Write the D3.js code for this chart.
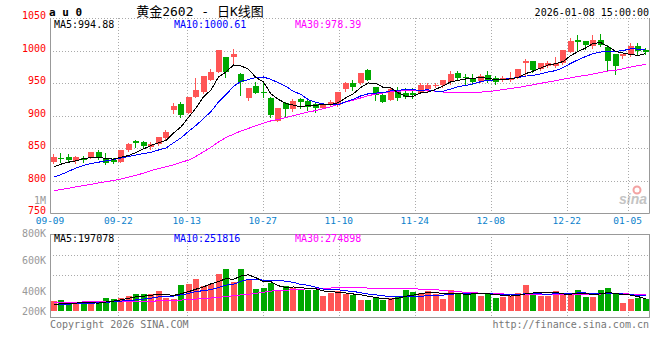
<!DOCTYPE html>
<html>
<head>
<meta charset="utf-8">
<script src="https://cdn.jsdelivr.net/npm/d3@7"></script>
<style>
  body { margin: 0; background: #fff; }
  svg text { font-family: 'DejaVu Sans Mono', monospace; font-size: 10px; }
</style>
</head>
<body>
<div class="main"></div>
<script>
let dates = ['09-09','09-10','09-11','09-12','09-15','09-16','09-17','09-18','09-19','09-22',
  '09-23','09-24','09-25','09-26','09-29','09-30','10-09','10-10','10-13','10-14',
  '10-15','10-16','10-17','10-20','10-21','10-22','10-23','10-24','10-27','10-28',
  '10-29','10-30','10-31','11-03','11-04','11-05','11-06','11-07','11-10','11-11',
  '11-12','11-13','11-14','11-17','11-18','11-19','11-20','11-21','11-24','11-25',
  '11-26','11-27','11-28','12-01','12-02','12-03','12-04','12-05','12-08','12-09',
  '12-10','12-11','12-12','12-15','12-16','12-17','12-18','12-19','12-22','12-23',
  '12-24','12-25','12-26','12-29','12-30','12-31','01-05','01-06','01-07','01-08'];

let opens = [830,836,837,831,835,835,845,834,833,830, 847,861,860,853,857,866,909,918,905,930,
  937,956,968,990,990,965,928,946,937,928, 893,920,911,926,923,918,913,919,917,941,
  951,951,971,944,932,925,937,936,936,936, 941,946,947,952,966,960,959,954,963,959,
  957,955,958,981,985,972,977,977,981,999, 1017,1015,1007,1017,1006,995,993,994,1008,1001];
let closes = [837,835,832,837,832,844,835,827,830,847, 857,859,854,857,867,876,915,902,930,940,
  961,968,1001,968,995,953,943,936,935,902, 912,911,923,922,914,913,918,921,937,951,
  945,966,955,933,921,941,927,930,932,948, 948,948,955,964,959,959,953,962,955,952,
  958,959,972,985,971,982,982,982,1002,1016, 1014,1009,1017,1009,985,977,996,1007,1000,999];
let highs = [841,843,841,839,839,844,847,843,835,847, 858,863,861,860,868,879,920,922,930,958,
  961,972,1001,990,1003,966,943,952,952,929, 913,922,926,927,926,920,919,924,937,953,
  955,966,973,944,935,943,945,943,943,951, 951,951,956,969,969,964,964,964,969,961,
  961,967,972,988,985,982,985,991,1002,1020, 1025,1015,1025,1026,1009,995,996,1012,1012,1005];
let lows = [828,830,830,828,830,835,834,826,828,830, 846,853,851,850,856,865,904,898,904,930,
  935,955,968,960,982,932,924,935,930,898, 893,898,908,913,910,906,912,917,915,939,
  940,950,955,924,921,925,925,927,927,935, 937,944,945,950,955,949,950,953,953,950,
  954,954,958,961,968,971,976,976,980,999, 1000,1003,1005,1007,969,964,989,993,995,995];

// volume in thousands of lots
let volumes = [156.6,172.8,129.6,118.8,118.8,118.8,156.6,216,199.8,216,
  248.4,270,270,270,318.6,210.6,189,415.8,432,523.8,
  399.6,432,594,675,464.4,675,523.8,351,367.2,453.6,
  345.6,399.6,378,334.8,345.6,334.8,237.6,291.6,324,270,
  253.8,172.8,172.8,216,183.6,216,248.4,334.8,307.8,291.6,
  324,270,189,334.8,291.6,270,302.4,237.6,291.6,216,
  226.8,237.6,291.6,415.8,291.6,248.4,248.4,318.6,270,270,
  334.8,226.8,226.8,334.8,367.2,270,129.6,189,210.6,189];

// MA values before enough history is on screen
let ma5Head = [822,826,829,831];
let ma10Head = [806,810,815,820,824,827,829,831,833];
let ma30Head = [785,787,789,791,793,795,797,799,801,803,806,809,812,816,819,822,825,829,832,838,
  845,852,860,867,872,877,881,885,889];
let vma5Head = [110,115,120,128];
let vma10Head = [105,108,112,116,120,126,134,142,150];
let vma30Head = [145,145,145,145,146,146,147,147,148,149,151,154,157,160,163,167,171,177,184,193,
  200,210,220,235,248,260,270,285,305];

let tickDates = ['09-09','09-22','10-13','10-27','11-10','11-24','12-08','12-22','01-05'];
let priceTicks = [750,800,850,900,950,1000,1050];
let volTicks = [1000000,800000,600000,400000,200000];
let volTickLabels = ['1M','800K','600K','400K','200K'];
let maNames = ['MA5','MA10','MA30'];
let maColors = ['#000','#0000ff','#ff00ff'];
let priceMaLast = ['994.88','1000.61','978.39'];
let volMaLast = ['197078','251816','274898'];

const red = '#ff5656', green = '#00a800', gridColor = '#aaa', frameColor = '#999';
const W = 660, H = 360;
const left = 50, right = 649;
const pTop = 18, pBottom = 213;
const vTop = 234, vBottom = 317, vBase = 311;

function movingAvg(values, n, head) {
  return values.map((v, i) => i < n - 1 ? head[i] : d3.mean(values.slice(i - n + 1, i + 1)));
}

let svg = d3.select('.main').append('svg')
  .attr('width', W)
  .attr('height', H);

let x = d3.scaleBand().domain(d3.range(dates.length)).range([left, right + 0.3]);
let cx = i => Math.round(x(i) + x.bandwidth() / 2);
let xGrid = d3.scaleLinear().domain([0, 80]).range([left, left + 608]);
let yP = d3.scaleLinear().domain([750, 1050]).range([pBottom + 0.5, pTop + 0.5]);
let yV = d3.scaleLinear().domain([0, 1231]).range([vBase, vBase - 76]);
let yVLabel = d3.scaleLinear().domain([400000, 1000000]).range([291, 200]);

// header
svg.append('text').attr('x', 49).attr('y', 12).attr('dy', '0.35em')
  .style('font-size', '11px').style('font-weight', 'bold').text('a u 0');
svg.append('text').attr('x', 200).attr('y', 11).attr('dy', '0.35em')
  .attr('text-anchor', 'middle')
  .style('font-family', "'DejaVu Sans Mono', 'Noto Sans CJK SC'").style('font-size', '13px')
  .text('黄金2602 - 日K线图');
svg.append('text').attr('x', 649).attr('y', 12).attr('dy', '0.35em')
  .attr('text-anchor', 'end').text('2026-01-08 15:00:00');

// sina watermark
svg.append('circle').attr('cx', 637).attr('cy', 190).attr('r', 3.5)
  .attr('fill', 'none').attr('stroke', '#f3a3a3').attr('stroke-width', 2);
svg.append('text').attr('x', 619).attr('y', 204)
  .style('font-family', 'Liberation Sans').style('font-size', '14px')
  .style('font-style', 'italic').style('font-weight', 'bold')
  .attr('fill', '#c4c4c4').text('sina');

// grid lines
let hLines = priceTicks.filter(v => v > 750);
svg.selectAll('.pgrid').data(hLines).enter().append('line')
  .attr('class', 'pgrid')
  .attr('x1', left).attr('x2', right)
  .attr('y1', d => Math.floor(yP(d)) + 0.5).attr('y2', d => Math.floor(yP(d)) + 0.5)
  .attr('stroke', gridColor).attr('stroke-dasharray', '1,2');

let tickIdx = tickDates.map(d => dates.indexOf(d)).filter(i => i > 0);
svg.selectAll('.vgrid').data(tickIdx).enter().append('line')
  .attr('class', 'vgrid')
  .attr('x1', i => Math.round(xGrid(i)) + 0.5).attr('x2', i => Math.round(xGrid(i)) + 0.5)
  .attr('y1', pTop).attr('y2', pBottom)
  .attr('stroke', gridColor).attr('stroke-dasharray', '1,2');
svg.selectAll('.vgrid2').data(tickIdx).enter().append('line')
  .attr('class', 'vgrid2')
  .attr('x1', i => Math.round(xGrid(i)) + 0.5).attr('x2', i => Math.round(xGrid(i)) + 0.5)
  .attr('y1', vTop).attr('y2', vBottom)
  .attr('stroke', gridColor).attr('stroke-dasharray', '1,2');
svg.selectAll('.volgrid').data([21, 41]).enter().append('line')
  .attr('class', 'volgrid')
  .attr('x1', left).attr('x2', right)
  .attr('y1', d => vTop + d + 0.5).attr('y2', d => vTop + d + 0.5)
  .attr('stroke', gridColor).attr('stroke-dasharray', '1,2');

// frames
svg.append('path')
  .attr('d', `M${left + 0.5},${pTop}V${pBottom + 0.5}H${right + 0.5}V${pTop}`)
  .attr('fill', 'none').attr('stroke', frameColor);
svg.append('rect')
  .attr('x', left + 0.5).attr('y', vTop + 0.5)
  .attr('width', right - left).attr('height', vBottom - vTop)
  .attr('fill', 'none').attr('stroke', frameColor);

// axis labels
svg.selectAll('.plabel').data(priceTicks).enter().append('text')
  .attr('class', 'plabel')
  .attr('x', 46).attr('y', d => yP(d) - 3).attr('dy', '0.35em')
  .attr('text-anchor', 'end').attr('fill', '#f00')
  .text(d => d);
svg.selectAll('.dlabel').data(tickDates).enter().append('text')
  .attr('class', 'dlabel')
  .attr('x', d => xGrid(dates.indexOf(d))).attr('y', 221).attr('dy', '0.35em')
  .attr('text-anchor', 'middle').attr('fill', '#0a7fcc')
  .style('font-size', '9.5px')
  .text(d => d);
svg.selectAll('.vlabel').data(volTicks).enter().append('text')
  .attr('class', 'vlabel')
  .attr('x', 46).attr('y', d => Math.min(Math.max(yVLabel(d), d === 800000 ? 233 : 0), 311)).attr('dy', '0.35em')
  .attr('text-anchor', 'end').attr('fill', '#999')
  .text((d, i) => volTickLabels[i]);

// candles
let idx = d3.range(dates.length);
let candles = svg.selectAll('.candle').data(idx).enter().append('g').attr('class', 'candle');
candles.append('line')
  .attr('x1', i => cx(i) - 0.5).attr('x2', i => cx(i) - 0.5)
  .attr('y1', i => Math.round(yP(highs[i]))).attr('y2', i => Math.round(yP(lows[i])) + 1)
  .attr('stroke', i => closes[i] >= opens[i] ? red : green);
candles.append('rect')
  .attr('x', i => cx(i) - 3).attr('width', 6)
  .attr('y', i => Math.round(yP(Math.max(opens[i], closes[i]))))
  .attr('height', i => Math.max(1, Math.round(yP(Math.min(opens[i], closes[i]))) - Math.round(yP(Math.max(opens[i], closes[i])))))
  .attr('fill', i => closes[i] >= opens[i] ? red : green);

// volume bars
svg.selectAll('.vol').data(idx).enter().append('rect')
  .attr('class', 'vol')
  .attr('x', i => cx(i) - 3).attr('width', 6)
  .attr('y', i => Math.round(yV(volumes[i])))
  .attr('height', i => vBase - Math.round(yV(volumes[i])))
  .attr('fill', i => closes[i] >= opens[i] ? red : green);

// moving averages
let priceMa = [movingAvg(closes, 5, ma5Head), movingAvg(closes, 10, ma10Head), movingAvg(closes, 30, ma30Head)];
let volMa = [movingAvg(volumes, 5, vma5Head), movingAvg(volumes, 10, vma10Head), movingAvg(volumes, 30, vma30Head)];
let linePrice = d3.line().x((d, i) => x(i) + x.bandwidth() / 2).y(d => yP(d));
let lineVol = d3.line().x((d, i) => x(i) + x.bandwidth() / 2).y(d => yV(d));
[2, 1, 0].forEach(k => {
  svg.append('path').attr('d', linePrice(priceMa[k]))
    .attr('fill', 'none').attr('stroke', maColors[k]).attr('shape-rendering', 'crispEdges');
  svg.append('path').attr('d', lineVol(volMa[k]))
    .attr('fill', 'none').attr('stroke', maColors[k]).attr('shape-rendering', 'crispEdges');
});

// legends
let legendX = [54, 174, 295];
maNames.forEach((name, k) => {
  svg.append('text').attr('x', legendX[k]).attr('y', 24).attr('dy', '0.35em')
    .attr('fill', maColors[k]).text(`${name}:${priceMaLast[k]}`);
  svg.append('text').attr('x', legendX[k]).attr('y', 238.5).attr('dy', '0.35em')
    .attr('fill', maColors[k]).text(`${name}:${volMaLast[k]}`);
});

// footer
svg.append('text').attr('x', 50).attr('y', 324).attr('dy', '0.35em')
  .attr('fill', '#777').text('Copyright 2026 SINA.COM');
svg.append('text').attr('x', 649).attr('y', 324).attr('dy', '0.35em')
  .attr('text-anchor', 'end').attr('fill', '#777').text('http://finance.sina.com.cn');
</script>
</body>
</html>
